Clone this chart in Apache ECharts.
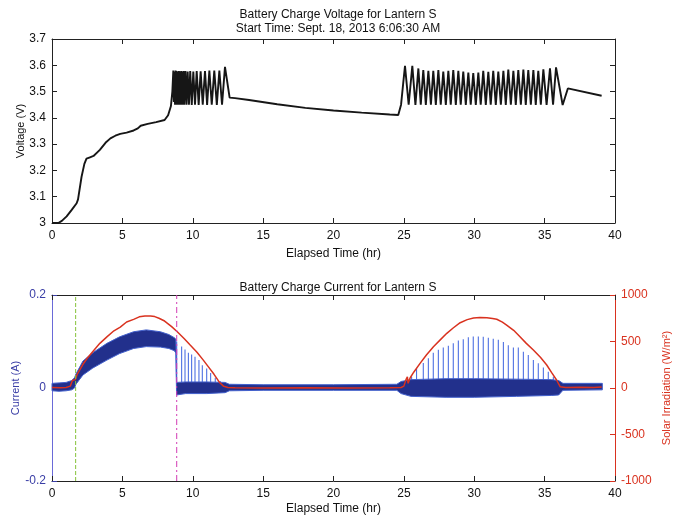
<!DOCTYPE html>
<html><head><meta charset="utf-8">
<script src="https://cdn.jsdelivr.net/npm/echarts@6/dist/echarts.min.js"></script>
<style>html,body{margin:0;padding:0;background:#fff}#c{width:673px;height:518px}</style>
</head><body><div id="c"></div>
<script>
// ---- DATA ----
// Battery voltage [hour, volts]
const voltage = [
 [0,3.0],[0.45,3.0],[0.7,3.008],[1.04,3.025],[1.4,3.05],[1.75,3.075],[1.85,3.09],[2.1,3.176],[2.3,3.225],[2.45,3.245],
 [2.7,3.25],[2.95,3.255],[3.4,3.278],[3.8,3.305],[4.15,3.322],[4.5,3.332],[4.85,3.339],[5.3,3.344],[5.8,3.352],[6.1,3.36],
 [6.3,3.37],[6.8,3.377],[7.4,3.384],[8.0,3.392],[8.25,3.41],[8.45,3.445],[8.55,3.5],
 [8.62,3.58],[8.66,3.46],[8.70,3.575],[8.74,3.45],[8.78,3.58],[8.82,3.45],[8.86,3.578],[8.90,3.45],[8.94,3.575],[8.98,3.45],
 [9.02,3.578],[9.06,3.45],[9.10,3.576],[9.14,3.45],[9.18,3.578],[9.22,3.45],[9.26,3.575],[9.30,3.45],[9.34,3.578],[9.40,3.45],
 [9.48,3.578],[9.56,3.45],[9.64,3.576],[9.73,3.45],[9.82,3.578],[9.93,3.449],[10.04,3.576],[10.16,3.45],[10.28,3.578],[10.42,3.449],
 [10.56,3.577],[10.71,3.45],[10.87,3.578],[11.02,3.449],[11.18,3.58],[11.35,3.45],[11.53,3.58],[11.71,3.449],[11.89,3.58],[12.08,3.45],
 [12.29,3.594],[12.62,3.477],
 [13.0,3.475],[14,3.468],[16,3.452],[18,3.438],[20,3.428],[22,3.42],[24,3.413],[24.6,3.411],[24.8,3.45],[24.95,3.53],
 [25.08,3.598],[25.34,3.45],[25.60,3.598],[25.82,3.449],[26.03,3.588],[26.2,3.45],[26.38,3.582],[26.56,3.449],[26.74,3.579],[26.92,3.45],
 [27.09,3.579],[27.27,3.449],[27.45,3.582],[27.62,3.45],[27.80,3.576],[27.98,3.449],[28.16,3.579],[28.33,3.45],[28.51,3.582],[28.69,3.449],
 [28.87,3.579],[29.04,3.45],[29.22,3.576],[29.4,3.449],[29.58,3.572],[29.75,3.45],[29.93,3.570],[30.11,3.449],[30.29,3.572],[30.46,3.45],
 [30.64,3.579],[30.82,3.449],[31.00,3.575],[31.17,3.45],[31.35,3.579],[31.53,3.449],[31.71,3.576],[31.89,3.45],[32.07,3.579],[32.24,3.449],
 [32.42,3.584],[32.6,3.45],[32.78,3.579],[32.95,3.449],[33.13,3.582],[33.31,3.45],[33.49,3.584],[33.66,3.449],[33.84,3.582],[34.02,3.45],
 [34.20,3.582],[34.37,3.449],[34.55,3.579],[34.73,3.45],[34.91,3.585],[35.14,3.449],[35.38,3.588],[35.6,3.45],[35.81,3.592],
 [36.28,3.449],[36.65,3.512],[39.05,3.484]
];
// Current noise band [hour, low A, high A]
const currentBand = [
 [0,-0.006,0.01],[0.5,-0.007,0.011],[1.0,-0.006,0.012],[1.4,-0.004,0.016],[1.6,0.0,0.022],[1.7,0.008,0.03],
 [2.2,0.028,0.058],[2.9,0.043,0.076],[3.9,0.060,0.096],[4.8,0.074,0.110],[5.8,0.085,0.121],[6.7,0.089,0.125],
 [7.7,0.088,0.121],[8.3,0.085,0.115],[8.7,0.080,0.108],[8.8,0.075,0.105],[8.85,-0.015,0.012],
 [9.5,-0.012,0.013],[11,-0.012,0.013],[12.3,-0.01,0.012],[12.6,-0.006,0.008],[15,-0.005,0.007],[20,-0.005,0.007],
 [24.5,-0.005,0.008],[24.8,-0.012,0.014],[25.5,-0.018,0.018],[28,-0.02,0.02],[30,-0.02,0.02],[33,-0.018,0.019],
 [35.5,-0.016,0.018],[36.0,-0.015,0.016],[36.3,-0.005,0.01],[39.1,-0.004,0.01]
];
// Current spikes [hour, peak A]
const currentSpikes = [
 [8.86,0.1],[9.21,0.089],[9.45,0.083],[9.69,0.076],[9.92,0.072],[10.16,0.067],[10.44,0.06],[10.68,0.049],[10.99,0.042],[11.27,0.032],
 [11.6,0.022],[11.95,0.015],
 [25.55,0.025],[25.9,0.043],[26.38,0.054],[26.74,0.064],[27.09,0.076],[27.45,0.082],[27.8,0.087],[28.16,0.091],[28.51,0.096],
 [28.87,0.102],[29.22,0.105],[29.58,0.109],[29.93,0.111],[30.29,0.111],[30.64,0.110],[31.0,0.108],[31.35,0.106],[31.71,0.104],
 [32.07,0.099],[32.42,0.092],[32.78,0.087],[33.13,0.087],[33.49,0.078],[33.84,0.071],[34.2,0.060],[34.55,0.053],[34.91,0.044],
 [35.26,0.035],[35.62,0.024]
];
// Solar irradiation [hour, W/m2]
const solar = [
 [0,5],[0.6,3],[1.0,6],[1.3,20],[1.45,80],[1.55,60],[1.65,90],[1.8,150],[2.2,255],[2.5,320],[2.95,400],[3.4,480],[3.9,550],
 [4.4,615],[4.85,655],[5.3,710],[5.8,738],[6.2,765],[6.6,775],[7.0,775],[7.3,768],[7.6,750],[8.0,720],[8.5,660],[8.9,605],
 [9.4,530],[9.8,465],[10.3,385],[10.75,300],[11.1,230],[11.5,150],[11.9,60],[12.2,18],[12.5,5],[13,3],[15,0],[18,3],[21,0],
 [24,2],[24.8,5],[25.0,20],[25.15,90],[25.25,120],[25.3,50],[25.45,110],[25.7,170],[26.15,265],[26.6,355],[27.1,444],[27.6,520],
 [28.05,588],[28.5,645],[29.0,702],[29.5,735],[29.95,752],[30.4,758],[30.9,756],[31.3,748],[31.6,739],[32.0,708],[32.3,677],
 [32.8,620],[33.25,552],[33.7,480],[34.2,409],[34.7,330],[35.15,247],[35.5,165],[35.85,86],[36.1,14],[36.5,5],[37.5,8],[38.5,6],[39.05,10]
];
// Event markers (hours)
const markerTimes = [1.68, 8.86];
const xTicks = {min:0, max:40, interval:5};

// ---- CHART ----
const FF = 'Liberation Sans, Arial, sans-serif';
const chart = echarts.init(document.getElementById('c'), null, {renderer:'canvas'});
const blackLine = {show:true, onZero:false, lineStyle:{color:'#222', width:1}};
const tickIn = {show:true, inside:true, length:5, lineStyle:{color:'#222'}};
const lab = {fontSize:12, color:'#111', fontFamily:FF};
const blue = '#3a3ea6', red = '#d9321f';
const titleStyle = {fontSize:12, fontWeight:'normal', color:'#111', fontFamily:FF};

function xAx(grid, pos, showLab, gap){
  return {type:'value', gridIndex:grid, position:pos, min:xTicks.min, max:xTicks.max, interval:xTicks.interval,
    axisLine:blackLine, axisTick:tickIn, splitLine:{show:false},
    axisLabel: showLab ? Object.assign({margin:7}, lab) : {show:false},
    name: showLab ? 'Elapsed Time (hr)' : '', nameLocation:'middle', nameGap:gap||0, nameMoveOverlap:false,
    nameTextStyle:{fontSize:12, color:'#111', fontFamily:FF}};
}

const markerStyles = [
  {color:'#86c23a', dash:[4,2]},
  {color:'#d23cb4', dash:[6,3,2,3]}
];

const option = {
  animation:false,
  backgroundColor:'#fff',
  title:[
    {text:'Battery Charge Voltage for Lantern S', left:333, textAlign:'center', top:4, textStyle:titleStyle},
    {text:'Start Time: Sept. 18, 2013 6:06:30 AM', left:333, textAlign:'center', top:18, textStyle:titleStyle},
    {text:'Battery Charge Current for Lantern S', left:333, textAlign:'center', top:277, textStyle:titleStyle}
  ],
  grid:[{left:52, right:58, top:39, height:184, containLabel:false, outerBoundsMode:'none'},
        {left:52, right:58, top:295, height:186, containLabel:false, outerBoundsMode:'none'}],
  xAxis:[xAx(0,'bottom',true,25), xAx(0,'top',false), xAx(1,'bottom',true,22), xAx(1,'top',false)],
  yAxis:[
    {type:'value', gridIndex:0, position:'left', min:3, max:3.7, interval:0.1, axisLine:blackLine, axisTick:tickIn,
     splitLine:{show:false}, axisLabel:Object.assign({margin:6}, lab),
     name:'Voltage (V)', nameLocation:'middle', nameRotate:90, nameGap:26, nameMoveOverlap:false,
     nameTextStyle:{fontSize:11, color:'#111', fontFamily:FF}},
    {type:'value', gridIndex:0, position:'right', min:3, max:3.7, interval:0.1, axisLine:blackLine, axisTick:tickIn,
     splitLine:{show:false}, axisLabel:{show:false}},
    {type:'value', gridIndex:1, position:'left', min:-0.2, max:0.2, interval:0.2,
     axisLine:{show:true, onZero:false, lineStyle:{color:'#6a6ad8', width:1}}, axisTick:{show:true, inside:true, length:5, lineStyle:{color:blue}},
     splitLine:{show:false}, axisLabel:Object.assign({}, lab, {color:blue, margin:6}),
     name:'Current (A)', nameLocation:'middle', nameRotate:90, nameGap:31, nameMoveOverlap:false,
     nameTextStyle:{fontSize:11, color:blue, fontFamily:FF}},
    {type:'value', gridIndex:1, position:'right', min:-1000, max:1000, interval:500,
     axisLine:{show:true, onZero:false, lineStyle:{color:red, width:1}}, axisTick:{show:true, inside:true, length:5, lineStyle:{color:red}},
     splitLine:{show:false}, axisLabel:Object.assign({}, lab, {color:red, margin:6, formatter:function(v){return String(v);}}),
     name:'Solar Irradiation (W/m²)', nameLocation:'middle', nameRotate:90, nameGap:46, nameMoveOverlap:false,
     nameTextStyle:{fontSize:11, color:red, fontFamily:FF}}
  ],
  series:[
    {type:'line', xAxisIndex:0, yAxisIndex:0, data:voltage, showSymbol:false, symbol:'none',
     lineStyle:{color:'#161616', width:1.9}, z:3},
    {type:'custom', xAxisIndex:2, yAxisIndex:2, data:currentSpikes, z:2,
     renderItem:function(params, api){
       const p0 = api.coord([api.value(0), -0.004]);
       const p1 = api.coord([api.value(0), api.value(1)]);
       return {type:'line', shape:{x1:p0[0], y1:p0[1], x2:p1[0], y2:p1[1]}, style:{stroke:'#4e70e2', lineWidth:1.1}};
     }},
    {type:'custom', xAxisIndex:2, yAxisIndex:2, data:[[0,0]], z:3,
     renderItem:function(params, api){
       const pts = [];
       currentBand.forEach(b => pts.push(api.coord([b[0], b[2]])));
       for (let i = currentBand.length-1; i >= 0; i--) pts.push(api.coord([currentBand[i][0], currentBand[i][1]]));
       return {type:'polygon', shape:{points:pts}, style:{fill:'#22308c', stroke:'#4260cc', lineWidth:1}};
     }},
    {type:'custom', xAxisIndex:2, yAxisIndex:2, data:markerTimes.map((t,i)=>[t,i]), z:6,
     renderItem:function(params, api){
       const t = api.value(0), s = markerStyles[api.value(1)];
       const p0 = api.coord([t, -0.2]), p1 = api.coord([t, 0.2]);
       return {type:'line', shape:{x1:p0[0], y1:p0[1], x2:p1[0], y2:p1[1]}, style:{stroke:s.color, lineWidth:1, lineDash:s.dash}};
     }},
    {type:'line', xAxisIndex:2, yAxisIndex:3, data:solar, showSymbol:false, symbol:'none',
     lineStyle:{color:red, width:1.5}, z:5}
  ]
};
chart.setOption(option);
</script>
</body></html>
